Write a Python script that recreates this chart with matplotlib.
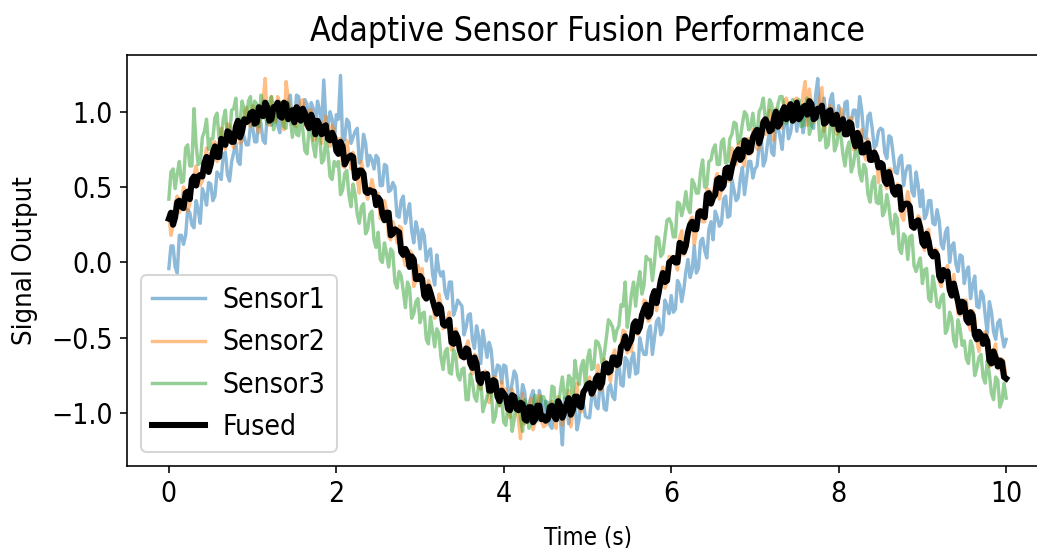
import numpy as np
import matplotlib
matplotlib.use("Agg")
import matplotlib.pyplot as plt

time_s = np.linspace(0, 10, 401)

sensor1 = [
    -0.04, 0.11, 0.11, -0.03, -0.07, 0.18, 0.18, 0.12, 0.18, 0.35, 0.33, 0.25, 0.23, 0.41, 0.35, 0.26, 0.49, 0.45, 0.38, 0.53,
    0.52, 0.41, 0.44, 0.60, 0.58, 0.55, 0.72, 0.73, 0.58, 0.54, 0.67, 0.73, 0.79, 0.67, 0.65, 0.88, 0.83, 0.78, 0.78, 0.91,
    0.90, 0.80, 0.80, 1.00, 0.92, 0.81, 0.79, 0.97, 1.02, 0.91, 0.96, 1.06, 0.91, 0.86, 1.06, 1.03, 0.97, 1.06, 1.11, 0.92,
    0.94, 1.11, 1.10, 0.95, 0.97, 1.08, 1.05, 0.90, 1.06, 1.02, 0.90, 1.07, 1.01, 0.90, 1.21, 0.94, 0.90, 1.00, 0.95, 0.80,
    0.98, 0.95, 1.24, 0.80, 0.82, 0.95, 0.93, 0.79, 0.83, 0.87, 0.89, 0.66, 0.69, 0.85, 0.79, 0.64, 0.71, 0.68, 0.62, 0.71,
    0.69, 0.51, 0.51, 0.65, 0.64, 0.47, 0.48, 0.53, 0.50, 0.31, 0.30, 0.41, 0.44, 0.26, 0.33, 0.39, 0.21, 0.13, 0.27, 0.21,
    0.09, 0.22, 0.18, 0.01, 0.07, 0.09, -0.08, -0.15, 0.05, -0.05, -0.09, -0.06, -0.20, -0.24, -0.13, -0.13, -0.35, -0.31, -0.25, -0.27,
    -0.29, -0.48, -0.43, -0.35, -0.34, -0.51, -0.57, -0.42, -0.49, -0.67, -0.45, -0.54, -0.63, -0.53, -0.58, -0.75, -0.75, -0.68, -0.69, -0.80,
    -0.68, -0.69, -0.84, -0.88, -0.80, -0.72, -0.75, -0.91, -0.94, -0.81, -0.86, -1.01, -0.95, -0.89, -0.85, -1.04, -1.05, -0.85, -0.92, -1.02,
    -0.92, -0.93, -1.08, -1.10, -0.96, -0.92, -1.04, -1.03, -1.21, -0.90, -0.92, -1.07, -0.98, -0.95, -0.92, -1.11, -1.04, -0.89, -0.93, -1.02,
    -1.03, -1.03, -0.89, -0.84, -0.95, -0.97, -0.81, -0.83, -0.97, -0.98, -0.83, -0.81, -0.89, -0.91, -0.72, -0.67, -0.81, -0.82, -0.63, -0.65,
    -0.76, -0.64, -0.60, -0.74, -0.73, -0.50, -0.57, -0.61, -0.61, -0.46, -0.42, -0.61, -0.50, -0.39, -0.37, -0.48, -0.45, -0.25, -0.29, -0.34,
    -0.22, -0.33, -0.31, -0.12, -0.15, -0.26, -0.18, -0.06, 0.02, -0.10, -0.05, 0.11, -0.07, -0.04, 0.14, 0.16, 0.08, 0.03, 0.22, 0.27,
    0.15, 0.34, 0.30, 0.24, 0.26, 0.42, 0.44, 0.30, 0.31, 0.55, 0.48, 0.41, 0.43, 0.56, 0.63, 0.45, 0.56, 0.67, 0.67, 0.56,
    0.62, 0.64, 0.77, 0.82, 0.64, 0.68, 0.79, 0.87, 0.73, 0.71, 0.92, 0.90, 0.83, 0.75, 0.93, 0.97, 0.82, 0.86, 0.96, 1.03,
    0.87, 1.02, 1.01, 0.86, 0.94, 1.03, 1.07, 0.91, 0.89, 1.11, 1.22, 0.96, 1.02, 1.09, 0.95, 0.94, 1.08, 1.12, 0.96, 0.91,
    1.04, 0.94, 0.90, 1.06, 1.07, 0.86, 0.93, 1.01, 1.01, 0.90, 1.10, 1.01, 0.84, 0.82, 0.97, 0.99, 0.89, 0.76, 0.78, 0.87,
    0.89, 0.88, 0.73, 0.69, 0.84, 0.83, 0.72, 0.60, 0.59, 0.69, 0.71, 0.51, 0.60, 0.64, 0.64, 0.47, 0.44, 0.60, 0.51, 0.37,
    0.48, 0.29, 0.32, 0.41, 0.41, 0.26, 0.25, 0.35, 0.28, 0.12, 0.09, 0.20, 0.23, 0.00, 0.11, 0.13, -0.01, -0.06, 0.05, 0.04,
    -0.14, -0.06, -0.03, -0.24, -0.15, -0.09, -0.29, -0.30, -0.19, -0.22, -0.35, -0.47, -0.26, -0.33, -0.46, -0.51, -0.40, -0.38, -0.48, -0.56,
    -0.51,
]

sensor2 = [
    0.32, 0.18, 0.25, 0.39, 0.44, 0.33, 0.37, 0.50, 0.47, 0.34, 0.39, 0.55, 0.58, 0.64, 0.57, 0.51, 0.54, 0.66, 0.76, 0.60,
    0.65, 0.79, 0.80, 0.67, 0.69, 0.89, 0.83, 0.75, 0.92, 0.91, 0.80, 0.76, 0.89, 0.92, 0.79, 0.81, 0.98, 1.03, 0.96, 0.90,
    1.04, 1.02, 0.90, 0.86, 1.02, 1.07, 1.22, 0.96, 0.91, 1.10, 1.03, 0.93, 1.10, 1.05, 0.95, 0.88, 1.20, 1.09, 1.00, 0.94,
    0.91, 0.90, 1.02, 1.07, 1.08, 0.91, 0.92, 1.01, 1.01, 0.81, 0.82, 0.94, 0.93, 0.79, 0.92, 0.97, 0.82, 0.77, 0.91, 0.88,
    0.73, 0.82, 0.82, 0.64, 0.63, 0.81, 0.71, 0.62, 0.73, 0.69, 0.56, 0.46, 0.67, 0.60, 0.46, 0.42, 0.49, 0.55, 0.48, 0.38,
    0.46, 0.29, 0.31, 0.41, 0.35, 0.17, 0.15, 0.27, 0.23, 0.13, 0.24, 0.23, 0.04, -0.02, 0.06, 0.08, 0.06, -0.16, -0.12, -0.02,
    -0.08, -0.04, -0.24, -0.24, -0.12, -0.16, -0.25, -0.37, -0.35, -0.21, -0.28, -0.44, -0.42, -0.38, -0.33, -0.58, -0.56, -0.44, -0.49, -0.63,
    -0.63, -0.63, -0.56, -0.52, -0.68, -0.74, -0.61, -0.62, -0.82, -0.84, -0.74, -0.72, -0.73, -0.93, -0.86, -0.76, -0.76, -0.91, -0.95, -0.79,
    -0.86, -0.84, -0.99, -1.03, -0.84, -0.90, -0.97, -1.04, -1.17, -0.87, -1.07, -1.03, -0.96, -0.90, -1.11, -1.06, -0.93, -0.88, -1.05, -1.09,
    -1.08, -1.05, -0.94, -0.92, -1.03, -1.10, -0.89, -0.92, -1.08, -1.00, -0.93, -0.85, -1.09, -1.01, -0.88, -0.80, -0.97, -0.99, -0.86, -0.82,
    -0.79, -0.76, -0.88, -0.88, -0.77, -0.68, -0.85, -0.84, -0.64, -0.69, -0.73, -0.79, -0.62, -0.58, -0.70, -0.66, -0.55, -0.45, -0.46, -0.60,
    -0.55, -0.59, -0.39, -0.39, -0.48, -0.44, -0.35, -0.25, -0.26, -0.39, -0.37, -0.21, -0.18, -0.32, -0.21, -0.09, -0.03, -0.17, -0.13, 0.04,
    0.03, 0.04, 0.00, -0.05, 0.16, 0.21, 0.05, 0.10, 0.20, 0.28, 0.30, 0.12, 0.21, 0.35, 0.35, 0.27, 0.27, 0.49, 0.48, 0.39,
    0.42, 0.55, 0.59, 0.42, 0.48, 0.61, 0.63, 0.54, 0.54, 0.76, 0.68, 0.65, 0.78, 0.80, 0.69, 0.64, 0.82, 0.82, 0.72, 0.88,
    0.87, 0.75, 0.76, 0.93, 0.95, 0.85, 0.92, 1.01, 0.87, 0.81, 1.02, 0.98, 0.92, 0.89, 1.07, 1.09, 1.02, 0.97, 0.93, 1.08,
    1.09, 0.94, 0.96, 1.12, 1.20, 0.91, 1.15, 1.05, 0.93, 0.97, 1.02, 1.09, 1.16, 0.87, 0.92, 1.01, 1.04, 1.02, 0.92, 0.85,
    0.86, 1.02, 0.97, 0.84, 0.85, 0.95, 0.96, 0.75, 0.75, 0.85, 0.84, 0.88, 0.72, 0.68, 0.82, 0.70, 0.68, 0.74, 0.72, 0.53,
    0.67, 0.66, 0.52, 0.49, 0.62, 0.62, 0.47, 0.44, 0.52, 0.51, 0.31, 0.28, 0.39, 0.47, 0.39, 0.24, 0.22, 0.27, 0.31, 0.29,
    0.12, 0.08, 0.21, 0.22, 0.06, 0.03, 0.09, 0.08, -0.12, -0.16, -0.04, -0.05, -0.02, -0.21, -0.23, -0.08, -0.19, -0.34, -0.35, -0.26,
    -0.25, -0.25, -0.41, -0.45, -0.32, -0.37, -0.52, -0.59, -0.48, -0.48, -0.46, -0.49, -0.69, -0.66, -0.58, -0.54, -0.69, -0.71, -0.64, -0.66,
    -0.78,
]

sensor3 = [
    0.42, 0.60, 0.62, 0.49, 0.59, 0.67, 0.53, 0.54, 0.76, 0.78, 0.64, 0.64, 1.02, 0.78, 0.65, 0.66, 0.83, 0.87, 0.95, 0.75,
    0.82, 0.82, 0.96, 0.99, 0.82, 0.83, 0.95, 1.01, 0.82, 0.84, 1.01, 1.02, 1.09, 0.85, 0.93, 1.07, 1.01, 0.94, 1.07, 1.10,
    0.91, 1.07, 1.05, 0.90, 1.11, 1.05, 0.97, 0.92, 1.06, 1.10, 0.88, 0.94, 1.01, 1.06, 1.05, 0.90, 0.89, 1.06, 0.96, 0.83,
    0.99, 0.85, 0.84, 0.96, 0.88, 0.74, 0.72, 0.89, 0.87, 0.77, 0.70, 0.87, 0.85, 0.66, 0.68, 0.82, 0.73, 0.57, 0.55, 0.67,
    0.64, 0.67, 0.45, 0.48, 0.59, 0.61, 0.45, 0.37, 0.52, 0.45, 0.32, 0.26, 0.37, 0.39, 0.19, 0.22, 0.32, 0.34, 0.15, 0.10,
    0.20, 0.02, 0.00, 0.13, 0.06, -0.03, 0.09, 0.07, -0.13, -0.17, -0.06, -0.09, -0.19, -0.30, -0.13, -0.17, -0.37, -0.34, -0.26, -0.24,
    -0.40, -0.34, -0.33, -0.51, -0.54, -0.36, -0.46, -0.56, -0.44, -0.47, -0.63, -0.71, -0.59, -0.57, -0.73, -0.74, -0.58, -0.61, -0.75, -0.78,
    -0.71, -0.70, -0.91, -0.91, -0.74, -0.79, -0.89, -0.92, -0.81, -0.77, -0.99, -0.94, -0.89, -0.84, -0.84, -1.06, -1.02, -0.92, -0.95, -0.91,
    -1.06, -1.08, -0.95, -0.93, -1.12, -1.04, -0.93, -0.90, -1.03, -1.12, -0.91, -0.97, -1.10, -1.07, -0.94, -0.88, -1.04, -1.00, -0.89, -0.89,
    -0.93, -1.01, -1.01, -0.82, -0.83, -1.01, -0.96, -0.85, -0.76, -0.90, -0.88, -0.75, -0.77, -0.93, -0.65, -0.75, -0.81, -0.69, -0.65, -0.81,
    -0.64, -0.58, -0.71, -0.70, -0.52, -0.53, -0.57, -0.67, -0.61, -0.50, -0.38, -0.40, -0.43, -0.52, -0.45, -0.42, -0.28, -0.29, -0.13, -0.43,
    -0.33, -0.21, -0.13, -0.29, -0.15, -0.06, -0.21, -0.15, 0.04, 0.02, 0.02, -0.12, 0.00, 0.17, 0.16, 0.04, 0.06, 0.17, 0.28, 0.29,
    0.26, 0.17, 0.17, 0.40, 0.39, 0.31, 0.37, 0.47, 0.36, 0.33, 0.55, 0.52, 0.46, 0.46, 0.60, 0.68, 0.50, 0.51, 0.67, 0.68,
    0.75, 0.78, 0.65, 0.65, 0.80, 0.82, 0.66, 0.67, 0.82, 0.85, 0.93, 0.92, 0.79, 0.82, 0.92, 1.00, 0.98, 0.88, 0.90, 0.99,
    0.87, 0.85, 1.00, 1.03, 1.09, 0.94, 0.95, 1.08, 1.05, 0.88, 0.91, 1.05, 1.10, 1.10, 1.02, 0.92, 0.95, 1.03, 1.08, 0.94,
    1.02, 1.08, 0.90, 0.91, 1.03, 1.09, 0.85, 0.90, 0.98, 1.01, 1.01, 0.81, 0.84, 0.93, 0.76, 0.78, 0.91, 0.96, 0.74, 0.78,
    0.87, 0.85, 0.72, 0.64, 0.75, 0.80, 0.60, 0.65, 0.74, 0.75, 0.59, 0.54, 0.65, 0.62, 0.45, 0.40, 0.53, 0.57, 0.40, 0.39,
    0.51, 0.31, 0.34, 0.45, 0.37, 0.25, 0.19, 0.32, 0.29, 0.09, 0.06, 0.19, 0.17, 0.02, 0.17, 0.18, -0.02, -0.06, -0.01, 0.03,
    -0.14, -0.05, -0.04, -0.24, -0.26, -0.09, -0.17, -0.29, -0.30, -0.23, -0.21, -0.47, -0.44, -0.33, -0.37, -0.52, -0.56, -0.38, -0.44, -0.55,
    -0.52, -0.64, -0.67, -0.52, -0.56, -0.75, -0.70, -0.63, -0.61, -0.76, -0.80, -0.65, -0.74, -0.87, -0.91, -0.76, -0.78, -0.96, -0.92, -0.80,
    -0.90,
]

fused = [
    0.29, 0.33, 0.25, 0.30, 0.40, 0.41, 0.37, 0.36, 0.46, 0.47, 0.42, 0.55, 0.57, 0.51, 0.57, 0.58, 0.57, 0.66, 0.70, 0.60,
    0.65, 0.73, 0.77, 0.70, 0.70, 0.82, 0.80, 0.78, 0.87, 0.86, 0.80, 0.80, 0.90, 0.94, 0.83, 0.87, 0.95, 0.93, 0.94, 0.99,
    1.00, 0.92, 0.93, 1.03, 1.00, 0.97, 1.06, 1.03, 0.94, 0.95, 1.03, 1.03, 1.06, 0.97, 0.96, 1.06, 1.05, 0.95, 0.97, 1.01,
    0.93, 1.03, 1.01, 0.94, 1.02, 0.99, 0.92, 0.89, 0.98, 0.94, 0.85, 0.94, 0.91, 0.85, 0.90, 0.91, 0.82, 0.81, 0.86, 0.83,
    0.74, 0.72, 0.80, 0.77, 0.65, 0.68, 0.70, 0.71, 0.70, 0.56, 0.57, 0.61, 0.61, 0.59, 0.47, 0.46, 0.48, 0.47, 0.47, 0.38,
    0.43, 0.41, 0.32, 0.28, 0.33, 0.33, 0.18, 0.19, 0.22, 0.21, 0.20, 0.07, 0.05, 0.09, 0.06, -0.03, 0.04, 0.02, -0.11, -0.11,
    -0.09, -0.11, -0.22, -0.24, -0.16, -0.20, -0.25, -0.30, -0.34, -0.28, -0.30, -0.41, -0.42, -0.40, -0.38, -0.53, -0.54, -0.47, -0.50, -0.58,
    -0.62, -0.63, -0.57, -0.58, -0.67, -0.70, -0.63, -0.67, -0.78, -0.80, -0.74, -0.76, -0.74, -0.85, -0.85, -0.78, -0.79, -0.89, -0.92, -0.85,
    -0.87, -0.89, -0.97, -0.98, -0.88, -0.89, -0.97, -0.98, -0.93, -0.94, -1.04, -1.05, -0.96, -0.96, -1.06, -1.04, -0.95, -0.95, -1.04, -1.02,
    -1.05, -1.04, -0.96, -0.95, -1.02, -1.04, -0.92, -0.95, -1.03, -0.99, -0.94, -0.90, -1.01, -0.98, -0.89, -0.89, -0.95, -0.96, -0.86, -0.84,
    -0.81, -0.80, -0.87, -0.84, -0.77, -0.75, -0.83, -0.80, -0.68, -0.67, -0.73, -0.72, -0.63, -0.63, -0.68, -0.67, -0.56, -0.54, -0.49, -0.57,
    -0.54, -0.51, -0.41, -0.39, -0.46, -0.43, -0.35, -0.31, -0.28, -0.36, -0.34, -0.23, -0.19, -0.27, -0.20, -0.12, -0.07, -0.13, -0.12, 0.00,
    0.01, 0.03, 0.00, 0.00, 0.13, 0.12, 0.07, 0.11, 0.20, 0.25, 0.27, 0.22, 0.22, 0.33, 0.34, 0.31, 0.30, 0.45, 0.46, 0.39,
    0.43, 0.45, 0.55, 0.56, 0.49, 0.51, 0.62, 0.63, 0.56, 0.63, 0.68, 0.73, 0.75, 0.68, 0.70, 0.81, 0.80, 0.73, 0.74, 0.83,
    0.86, 0.88, 0.79, 0.84, 0.93, 0.95, 0.92, 0.87, 0.88, 0.95, 1.00, 0.90, 0.92, 1.00, 1.03, 0.95, 1.01, 1.05, 0.94, 0.96,
    1.06, 0.95, 0.97, 1.03, 1.04, 0.98, 1.07, 1.05, 0.95, 0.96, 1.02, 1.01, 1.04, 0.92, 0.93, 1.00, 1.01, 0.92, 0.92, 0.98,
    0.88, 0.93, 0.95, 0.85, 0.85, 0.93, 0.92, 0.82, 0.77, 0.86, 0.83, 0.73, 0.73, 0.78, 0.79, 0.68, 0.68, 0.73, 0.70, 0.63,
    0.66, 0.65, 0.54, 0.52, 0.60, 0.55, 0.47, 0.45, 0.50, 0.50, 0.35, 0.38, 0.39, 0.39, 0.37, 0.24, 0.23, 0.27, 0.28, 0.23,
    0.13, 0.11, 0.19, 0.14, 0.06, 0.04, 0.07, 0.05, -0.09, -0.12, -0.05, -0.09, -0.06, -0.18, -0.22, -0.14, -0.20, -0.26, -0.33, -0.26,
    -0.27, -0.38, -0.40, -0.33, -0.35, -0.48, -0.51, -0.46, -0.48, -0.54, -0.49, -0.52, -0.65, -0.67, -0.59, -0.63, -0.69, -0.65, -0.66, -0.76,
    -0.77,
]

series_labels = ["Sensor1", "Sensor2", "Sensor3"]

plt.rcParams["font.family"] = ["DejaVu Sans"]
plt.rcParams["font.stretch"] = "condensed"

DPI = 145
fig = plt.figure(figsize=(1037 / DPI, 548 / DPI), dpi=DPI)
ax = fig.add_axes([127 / 1037, 82 / 548, 921 / 1037, 411 / 548])

for vals, lab in zip([sensor1, sensor2, sensor3], series_labels):
    ax.plot(time_s, vals, alpha=0.5, linewidth=1.7, label=lab)
ax.plot(time_s, fused, color="black", linewidth=3.0, label="Fused")

ax.set_xlim(-0.5, 10.5)
ax.set_ylim(-1.35, 1.376)
ax.set_xticks([0, 2, 4, 6, 8, 10])
ax.set_yticks([-1.0, -0.5, 0.0, 0.5, 1.0])
ax.tick_params(labelsize=14)
ax.set_title("Adaptive Sensor Fusion Performance", fontsize=16.7, pad=7)
ax.set_xlabel("Time (s)", fontsize=12)
ax.set_ylabel("Signal Output", fontsize=13.5)
ax.xaxis.set_label_coords(0.5, -0.1436)
ax.yaxis.set_label_coords(-0.0966, 0.5)
ax.legend(loc="lower left", fontsize=14, handlelength=1.85, handletextpad=0.65)

fig.savefig("out.png", dpi=DPI)
